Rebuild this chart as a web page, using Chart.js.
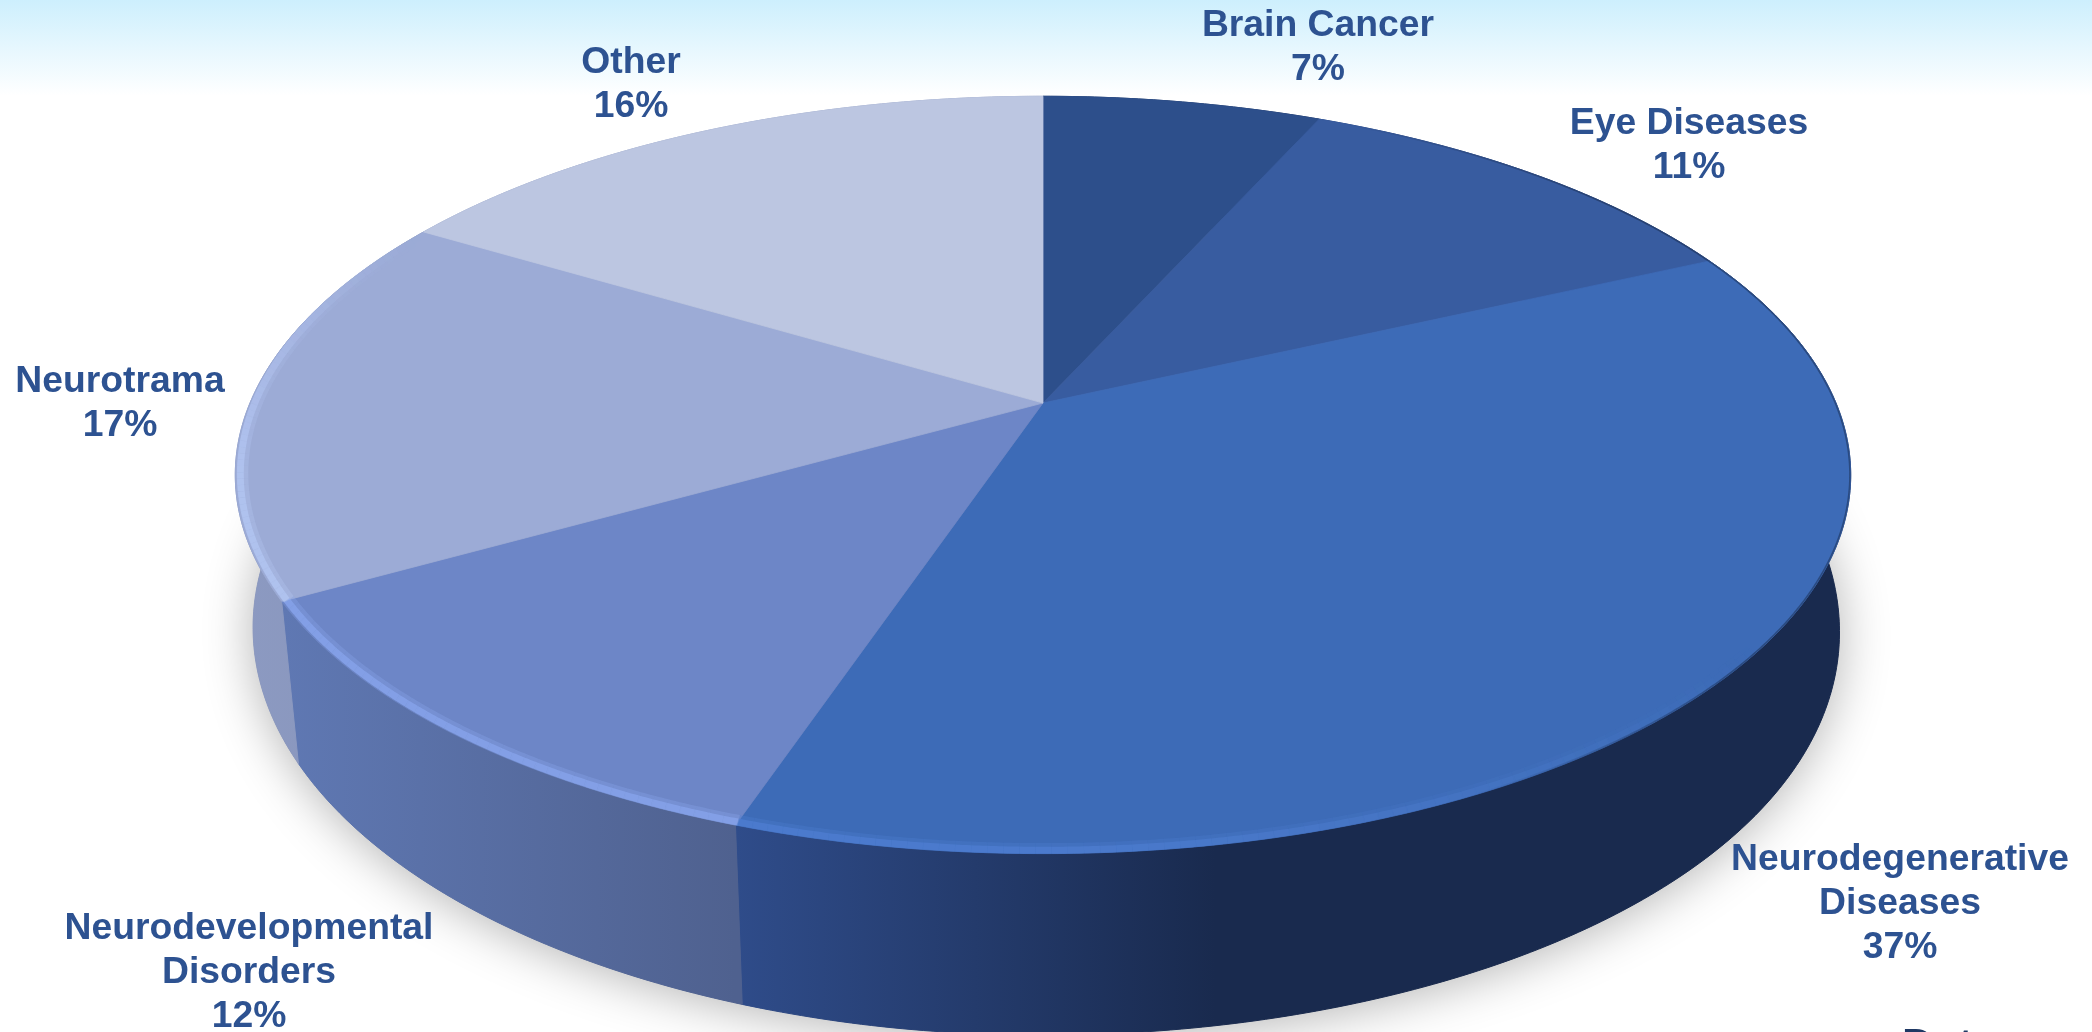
<!DOCTYPE html>
<html><head><meta charset="utf-8">
<style>html,body{margin:0;padding:0;background:#fff;overflow:hidden}canvas{display:block}</style>
<script src="https://cdn.jsdelivr.net/npm/chart.js@4"></script>
</head><body><canvas id="c" width="2092" height="1032"></canvas>
<script>
const categories = [["Brain Cancer"],["Eye Diseases"],["Neurodegenerative","Diseases"],["Neurodevelopmental","Disorders"],["Neurotrama"],["Other"]];
const values = [6.7,11.4,37.05,11.65,16.8,16.4];
const topColors = ["#2D4F8B","#385CA0","#3D6BB7","#6D86C7","#9CABD6","#BCC6E1"];
const wallLeft = ["#24406f","#2d4a82","#2f4c8a","#5f78b3","#8c9ac2","#9aa6c8"];
const wallRight = ["#1f3763","#263f72","#192a4e","#4f618f","#8894b9","#9aa6c8"];
const rimColors = ["#2D4F8B","#385CA0","#5080d4","#8aa8f0","#b6c9f6","#BCC6E1"];
const labelAnchors = [[1318,26],[1689,124],[1900,860],[249,929],[120,382],[631,63]];
const LH = 43.8, T = 0.19, KX = 793/403, KY = 365/403, DEPTH = 147;
const clamp=x=>Math.max(0,Math.min(1,x));

function proj(el,a,r,h){
  const R = el.outerRadius*r, u = Math.cos(a), v = Math.sin(a), w = 1 - T*v*r;
  const sx = h ? (u<0 ? 1-0.022*clamp(-u/0.25) : 1-0.015*u*u*u*u) : 1;
  return [el.x + sx*R*KX*u/w, el.y + (R*KY*v + (h||0))/w];
}
function arcPts(el,a0,a1,r,h){
  const n = Math.max(4,Math.ceil((a1-a0)*90)), p=[];
  for(let i=0;i<=n;i++) p.push(proj(el,a0+(a1-a0)*i/n,r,h));
  return p;
}
function trace(ctx,pts,move){pts.forEach((p,i)=>{(i===0&&move)?ctx.moveTo(p[0],p[1]):ctx.lineTo(p[0],p[1]);});}

const pie3d = {
  id:'pie3d',
  beforeDraw(chart){
    const ctx=chart.ctx, g=ctx.createLinearGradient(0,0,0,96);
    g.addColorStop(0,'#CDEFFD'); g.addColorStop(1,'#FFFFFF');
    ctx.save();ctx.fillStyle='#fff';ctx.fillRect(0,0,2092,1032);ctx.fillStyle=g;ctx.fillRect(0,0,2092,96);ctx.restore();
  },
  beforeDatasetsDraw(chart){
    const ctx=chart.ctx, els=chart.getDatasetMeta(0).data;
    ctx.save();
    // cast shadow
    const first=els[0];
    ctx.save();
    ctx.shadowColor='rgba(0,0,0,0.30)';ctx.shadowBlur=50;ctx.shadowOffsetY=4;ctx.shadowOffsetX=0;
    ctx.fillStyle='#888';ctx.beginPath();trace(ctx,arcPts(first,0,Math.PI*2,1,DEPTH),true);ctx.closePath();ctx.fill();
    ctx.restore();
    // side walls
    els.forEach((el,i)=>{
      const top=arcPts(el,el.startAngle,el.endAngle,1,0), bot=arcPts(el,el.startAngle,el.endAngle,1,DEPTH).reverse();
      let xs=top.map(p=>p[0]), x0=Math.min(...xs), x1=Math.max(...xs);
      const g=ctx.createLinearGradient(x0,0,i===2?x0+480:x1,0);
      g.addColorStop(0,wallLeft[i]);g.addColorStop(1,wallRight[i]);
      ctx.fillStyle=g;ctx.beginPath();trace(ctx,top,true);trace(ctx,bot,false);ctx.closePath();ctx.fill();
      ctx.strokeStyle=g;ctx.lineWidth=1;ctx.stroke();
    });
    // top faces
    els.forEach((el,i)=>{
      ctx.fillStyle=topColors[i];ctx.strokeStyle=topColors[i];ctx.lineWidth=0.8;
      ctx.beginPath();const c=proj(el,0,0,0);ctx.moveTo(c[0],c[1]);
      trace(ctx,arcPts(el,el.startAngle,el.endAngle,1,0),false);ctx.closePath();ctx.fill();ctx.stroke();
    });
    // bevel highlight along the rim, thin dark edge on the right
    els.forEach((el,i)=>{
      const n=Math.max(4,Math.ceil((el.endAngle-el.startAngle)*60));
      for(let k=0;k<n;k++){
        const a0=el.startAngle+(el.endAngle-el.startAngle)*k/n, a1=el.startAngle+(el.endAngle-el.startAngle)*(k+1)/n;
        const m=(a0+a1)/2, s=Math.sin(m), c=Math.cos(m);
        const alpha = c<0 ? clamp((s+0.5)*1.5) : clamp(s*2.2+0.1)*clamp(1-c*1.25);
        ctx.lineCap='butt';
        if(alpha>0){
          ctx.strokeStyle=rimColors[i];
          ctx.globalAlpha=alpha*0.3;ctx.lineWidth=11;
          ctx.beginPath();trace(ctx,arcPts(el,a0,a1,0.991,0),true);ctx.stroke();
          ctx.globalAlpha=alpha*0.65;ctx.lineWidth=7;
          ctx.beginPath();trace(ctx,arcPts(el,a0,a1,0.994,0),true);ctx.stroke();
        }
        if(c>0.45){
          ctx.strokeStyle='#14233f';
          ctx.globalAlpha=0.45*clamp((c-0.45)*3);ctx.lineWidth=1.5;
          ctx.beginPath();trace(ctx,arcPts(el,a0,a1,0.999,0),true);ctx.stroke();
        }
      }
    });
    ctx.restore();
    return false;
  },
  afterDraw(chart){
    const ctx=chart.ctx;
    ctx.save();
    ctx.font='bold 37.3px "Liberation Sans", Arial, sans-serif';ctx.textAlign='center';ctx.textBaseline='middle';ctx.fillStyle='#2D5291';
    categories.forEach((lines,i)=>{
      const [x,y]=labelAnchors[i];
      [...lines, Math.round(values[i])+'%'].forEach((t,j)=>ctx.fillText(t,x,y+j*LH));
    });
    ctx.font='bold 44px "Liberation Sans", Arial, sans-serif';ctx.textAlign='left';ctx.textBaseline='alphabetic';ctx.fillStyle='#1F3864';
    ctx.fillText('Data',1902,1059.5);
    ctx.restore();
  }
};
new Chart(document.getElementById('c'),{
  type:'pie',
  data:{labels:categories.map(l=>l.join(' ')),datasets:[{data:values,backgroundColor:topColors,borderWidth:0}]},
  options:{responsive:false,devicePixelRatio:1,animation:false,rotation:0,
    layout:{padding:{left:0,right:6,top:0,bottom:226}},
    plugins:{legend:{display:false},tooltip:{enabled:false},title:{display:false}}},
  plugins:[pie3d]
});
</script></body></html>
